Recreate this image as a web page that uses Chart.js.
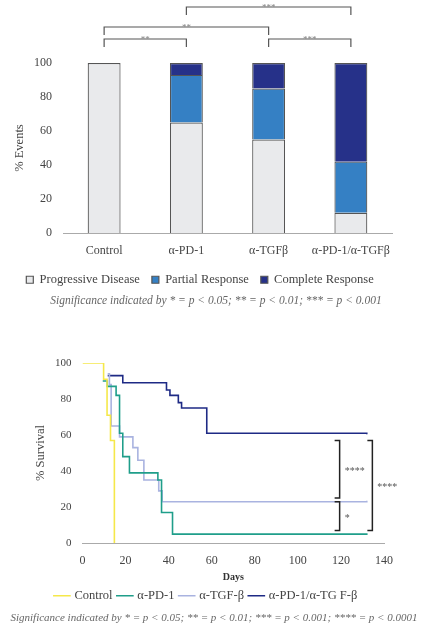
<!DOCTYPE html>
<html><head><meta charset="utf-8">
<script src="https://cdn.jsdelivr.net/npm/chart.js@4"></script>
<style>
body{margin:0;background:#fff;width:432px;height:624px;position:relative;overflow:hidden;font-family:"Liberation Serif",serif}
#c1{position:absolute;left:0;top:0}
#c2{position:absolute;left:0;top:330px}
.note{position:absolute;left:0;width:432px;text-align:center;font-style:italic;color:#666;font-size:11.5px;white-space:nowrap}
</style></head><body>
<canvas id="c1" width="432" height="296"></canvas>
<div class="note" style="top:294px">Significance indicated by * = p &lt; 0.05; ** = p &lt; 0.01; *** = p &lt; 0.001</div>
<canvas id="c2" width="432" height="282"></canvas>
<div class="note" style="top:611px;font-size:11px;left:-2px">Significance indicated by * = p &lt; 0.05; ** = p &lt; 0.01; *** = p &lt; 0.001; **** = p &lt; 0.0001</div>
<script>
const categories=["Control","α-PD-1","α-TGFβ","α-PD-1/α-TGFβ"];
const progressive=[100,65,55,12];
const partial=[0,28,30,30];
const complete=[0,7,15,58];
const barBrackets=[[0,1,"**",0],[0,2,"**",1],[1,3,"***",2],[2,3,"***",0]];

const days=[0,20,40,60,80,100,120,140];
const control=[[0,100],[9.8,91],[11.4,71],[13,57],[14.8,0]];
const pd1=[[9.4,90],[11.5,87],[15.6,82],[17.2,61],[18.7,48],[21.8,39],[35,35],[36.7,17],[41.8,5],[132,4.5]];
const tgf=[[11.7,94],[12.5,88],[13.3,65],[17.2,59],[23.4,53],[25.7,46],[28.5,35],[35.4,29],[37,23],[132,23.5]];
const combo=[[11.7,93],[18.7,89],[39,85],[40.6,82],[44.5,78],[46,75],[57.7,61],[132,60.5]];
const survBrackets=[[119.4,57,25,"****"],[119.4,23,7,"*"],[134.6,57,7,"****"]];

const F="'Liberation Serif', serif";
Chart.defaults.font.family=F;
Chart.defaults.color="#444";

new Chart(document.getElementById('c1'),{
type:'bar',
data:{labels:categories,datasets:[
{label:'Progressive Disease',data:progressive,backgroundColor:'#e9eaec'},
{label:'Partial Response',data:partial,backgroundColor:'#3580c4'},
{label:'Complete Response',data:complete,backgroundColor:'#263189'}
].map(d=>Object.assign(d,{borderColor:'#555',borderWidth:1.2,barPercentage:0.4,categoryPercentage:1}))},
options:{responsive:false,animation:false,
layout:{padding:{top:63,right:40,left:8}},
plugins:{legend:{position:'bottom',labels:{boxWidth:7,boxHeight:7,font:{size:12.5},color:'#444',padding:12}},tooltip:{enabled:false}},
scales:{
x:{stacked:true,grid:{display:false},border:{color:'#aaa'},ticks:{maxRotation:0,minRotation:0,autoSkip:false,font:{size:12},color:'#444'}},
y:{stacked:true,min:0,max:100,ticks:{stepSize:20,font:{size:12},color:'#444'},grid:{display:false},border:{display:false},
title:{display:true,text:'% Events',font:{size:12.5},color:'#444'}}}},
plugins:[{id:'br',afterDraw(c){
const ctx=c.ctx,x=c.scales.x,y=c.scales.y,top=y.getPixelForValue(100);
const lv=[24,36,56];
ctx.save();ctx.strokeStyle='#555';ctx.lineWidth=1.2;ctx.fillStyle='#888';ctx.font='9px '+F;ctx.textAlign='center';
barBrackets.forEach(([a,b,t,l])=>{const x1=x.getPixelForValue(a),x2=x.getPixelForValue(b),yy=top-lv[l];
ctx.beginPath();ctx.moveTo(x1,yy+8);ctx.lineTo(x1,yy);ctx.lineTo(x2,yy);ctx.lineTo(x2,yy+8);ctx.stroke();
ctx.fillText(t,(x1+x2)/2,yy+1);});
ctx.restore();}}]
});

const mk=a=>a.map(p=>({x:p[0],y:p[1]}));
new Chart(document.getElementById('c2'),{
type:'line',
data:{datasets:[
{label:'Control',data:mk(control),borderColor:'#f5e84a'},
{label:'α-PD-1',data:mk(pd1),borderColor:'#1f9e8a'},
{label:'α-TGF-β',data:mk(tgf),borderColor:'#a9b3e0'},
{label:'α-PD-1/α-TG F-β',data:mk(combo),borderColor:'#1e2a85'}
].map(d=>Object.assign(d,{stepped:true,pointRadius:0,borderWidth:1.6,fill:false,backgroundColor:d.borderColor}))},
options:{responsive:false,animation:false,
layout:{padding:{top:33,right:48,left:29}},
plugins:{legend:{position:'bottom',labels:{usePointStyle:true,pointStyle:'line',boxWidth:30,font:{size:12.5},color:'#444',padding:6}},tooltip:{enabled:false}},
scales:{
x:{type:'linear',min:0,max:140,ticks:{stepSize:20,font:{size:12},color:'#444'},grid:{display:false},border:{color:'#aaa'},
title:{display:true,text:'Days',font:{size:10,weight:'bold'},color:'#333',padding:0}},
y:{min:0,max:100,ticks:{stepSize:20,font:{size:11},color:'#444'},grid:{display:false},border:{display:false},
title:{display:true,text:'% Survival',font:{size:12.5},color:'#444'}}}},
plugins:[{id:'sb',afterDraw(c){
const ctx=c.ctx,x=c.scales.x,y=c.scales.y;
ctx.save();ctx.strokeStyle='#222';ctx.lineWidth=1.5;ctx.fillStyle='#555';ctx.font='10px '+F;ctx.textAlign='left';ctx.textBaseline='middle';
survBrackets.forEach(([d,a,b,t])=>{const xx=x.getPixelForValue(d),y1=y.getPixelForValue(a),y2=y.getPixelForValue(b);
ctx.beginPath();ctx.moveTo(xx-5,y1);ctx.lineTo(xx,y1);ctx.lineTo(xx,y2);ctx.lineTo(xx-5,y2);ctx.stroke();
ctx.fillText(t,xx+5,(y1+y2)/2+2);});
ctx.restore();}}]
});
</script></body></html>
